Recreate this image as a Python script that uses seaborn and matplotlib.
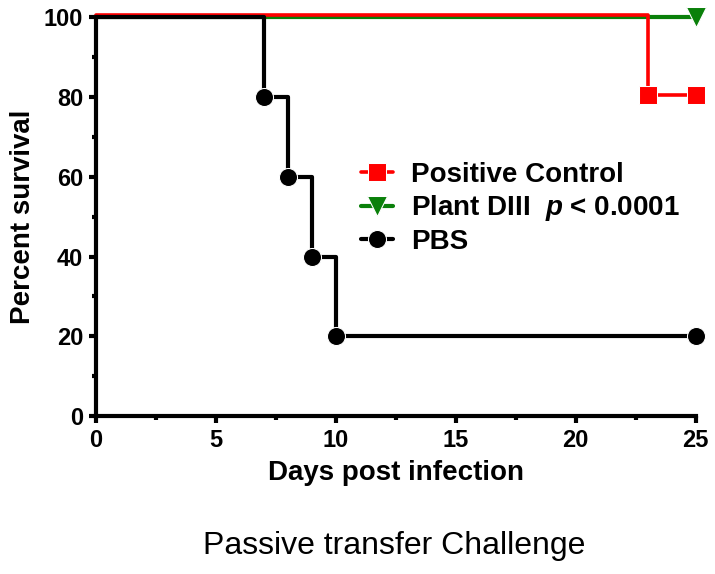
import matplotlib
matplotlib.use("Agg")
import matplotlib.pyplot as plt
import matplotlib.transforms as mtransforms
import seaborn as sns

# Survival data (Kaplan-Meier steps)
pos_days = [0, 23, 25]
pos_surv = [100, 80, 80]
plant_days = [0, 25]
plant_surv = [100, 100]
pbs_days = [0, 7, 8, 9, 10, 25]
pbs_surv = [100, 80, 60, 40, 20, 20]

labels = ["Positive Control", "Plant DIII  $p$ < 0.0001", "PBS"]
colors = ["#ff0000", "#0a800a", "#000000"]

sns.set_style("ticks")
plt.rcParams["font.family"] = ["Liberation Sans", "DejaVu Sans"]
plt.rcParams["mathtext.fontset"] = "custom"
plt.rcParams["mathtext.it"] = "Liberation Sans:italic:bold"
plt.rcParams["mathtext.rm"] = "Liberation Sans:bold"
plt.rcParams["text.color"] = "black"
plt.rcParams["axes.labelcolor"] = "black"
plt.rcParams["xtick.color"] = "black"
plt.rcParams["ytick.color"] = "black"
plt.rcParams["axes.edgecolor"] = "black"

fig = plt.figure(figsize=(7.15, 5.74), dpi=100)
ax = fig.add_axes([0.134, 0.275, 0.839, 0.695])

# Plant DIII
sns.lineplot(x=plant_days, y=plant_surv, ax=ax, color=colors[1], lw=3,
             drawstyle="steps-post", marker="v", markersize=14,
             markevery=[1], estimator=None, sort=False, clip_on=False)
# Positive control (drawn slightly above green so both show)
sns.lineplot(x=pos_days, y=pos_surv, ax=ax, color=colors[0], lw=2.6,
             drawstyle="steps-post", marker="s", markersize=13,
             markevery=[1, 2], estimator=None, sort=False, clip_on=False)
ax.lines[-1].set_transform(ax.transData + mtransforms.ScaledTranslation(0, 2 / 100, fig.dpi_scale_trans))
# PBS
sns.lineplot(x=pbs_days, y=pbs_surv, ax=ax, color=colors[2], lw=3,
             drawstyle="steps-post", marker="o", markersize=13,
             markevery=[1, 2, 3, 4, 5], estimator=None, sort=False, clip_on=False)

ax.set_xlim(0, 25)
ax.set_ylim(0, 100)
ax.set_xticks([0, 5, 10, 15, 20, 25])
ax.set_xticks([2.5, 7.5, 12.5, 17.5, 22.5], minor=True)
ax.set_yticks([0, 20, 40, 60, 80, 100])
ax.set_yticks([10, 30, 50, 70, 90], minor=True)
for s in ["top", "right"]:
    ax.spines[s].set_visible(False)
for s in ["left", "bottom"]:
    ax.spines[s].set_linewidth(3)
ax.tick_params(which="major", length=5, width=3, labelsize=17, pad=4)
ax.tick_params(which="minor", length=3, width=3)
for t in ax.get_xticklabels() + ax.get_yticklabels():
    t.set_fontweight("bold")

ax.set_xlabel("Days post infection", fontsize=20, fontweight="bold", labelpad=6)
ax.set_ylabel("Percent survival", fontsize=20, fontweight="bold", labelpad=6)

handles = [ax.lines[1], ax.lines[0], ax.lines[2]]
ax.legend(handles, labels, loc="upper left", bbox_to_anchor=(0.40, 0.70),
          frameon=False, handlelength=1.15, handletextpad=0.65, numpoints=1,
          labelspacing=0.2, prop={"weight": "bold", "size": 20})

fig.text(0.552, 0.035, "Passive transfer Challenge", ha="center", fontsize=23)

fig.savefig("out.png", dpi=100)
